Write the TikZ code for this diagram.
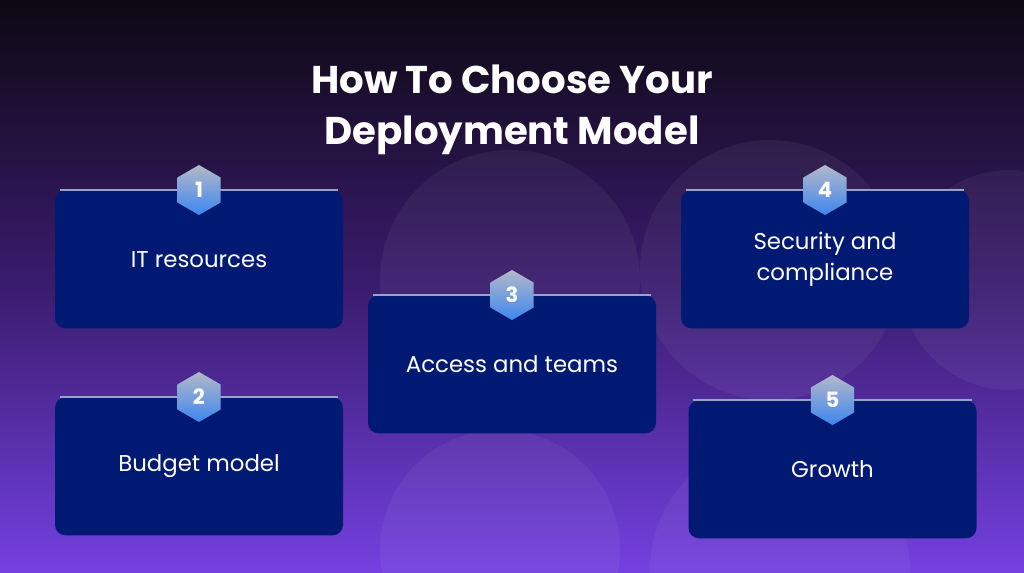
\documentclass[tikz,border=0pt]{standalone}
\usepackage{fontspec}
\setmainfont{Poppins}
\usetikzlibrary{shapes,positioning}
\definecolor{bgtop}{HTML}{0D0812}
\definecolor{bgmid}{HTML}{3A1C6E}
\definecolor{bgbot}{HTML}{7440E0}
\definecolor{cardblue}{HTML}{001A73}
\definecolor{hextop}{HTML}{B4B8C8}
\definecolor{hexbot}{HTML}{3D86F0}
\tikzset{
	card/.style={rectangle,rounded corners=6pt,fill=cardblue,minimum width=5.76cm,minimum height=2.76cm,
		text=white,font=\fontsize{13}{18}\selectfont,align=center,anchor=north},
	badge/.style={regular polygon,regular polygon sides=6,shape border rotate=30,minimum size=1.0cm,inner sep=0pt,
		top color=hextop,bottom color=hexbot,text=white,font=\fontsize{12}{12}\selectfont\bfseries},
	topline/.style={draw=white!60!cardblue,line width=0.6pt},
	blob/.style={fill=white,fill opacity=0.05}
}
\begin{document}
\begin{tikzpicture}
	\shade[top color=bgtop,bottom color=bgbot,middle color=bgmid] (0,0) rectangle (20.48,-11.46);
	\useasboundingbox (0,0) rectangle (20.48,-11.46);
	% faint circles
	\fill[blob] (10.2,-5.6) circle (2.6);
	\fill[blob] (15.4,-5.4) circle (2.6);
	\fill[blob] (20.2,-5.6) circle (2.2);
	\fill[blob] (10.0,-11.0) circle (2.4);
	\fill[blob] (15.6,-11.4) circle (2.6);
	% title
	\node[text=white,font=\fontsize{22}{29}\selectfont\bfseries,align=center] (title) at (10.24,-2.2)
		{How To Choose Your\\Deployment Model};
	% cards
	\node[card] (c1) at (3.98,-3.8) {IT resources};
	\node[card] (c2) at (3.98,-7.94) {Budget model};
	\node[card] (c3) at (10.24,-5.9) {Access and teams};
	\node[card] (c4) at (16.5,-3.8) {Security and\\compliance};
	\node[card] (c5) at (16.65,-8.0) {Growth};
	\foreach \c/\n in {c1/1,c2/2,c3/3,c4/4,c5/5}{
		\draw[topline] ([xshift=3pt]\c.north west) -- ([xshift=-3pt]\c.north east);
		\node[badge] (b\n) at (\c.north) {\n};
	}
\end{tikzpicture}
\end{document}
